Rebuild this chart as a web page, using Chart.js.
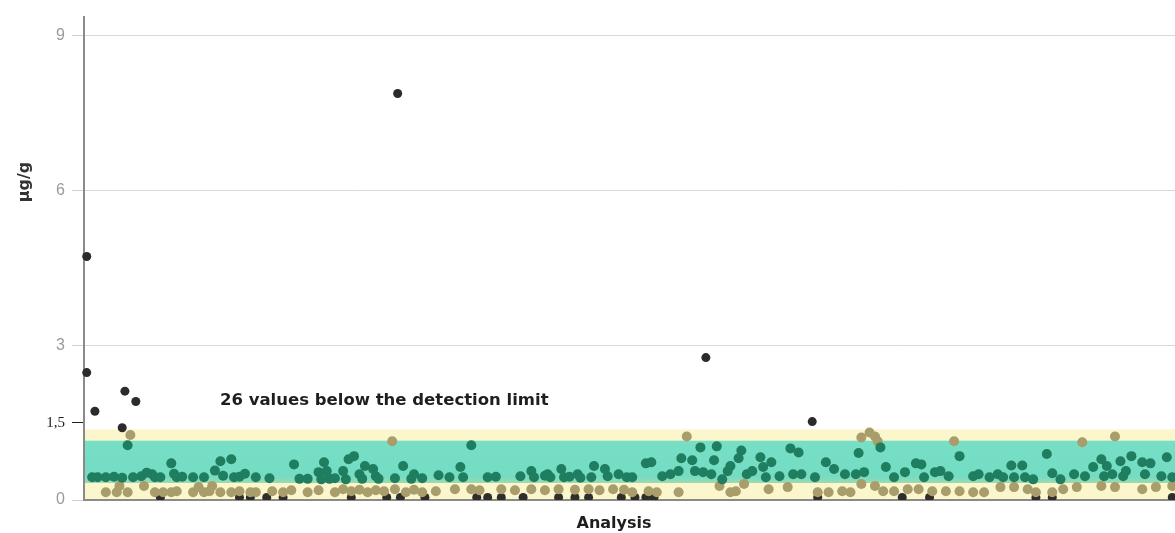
<!DOCTYPE html>
<html>
<head>
<meta charset="utf-8">
<script src="https://cdn.jsdelivr.net/npm/chart.js@4/dist/chart.umd.min.js"></script>
<style>
  html, body { margin: 0; padding: 0; background: #ffffff; overflow: hidden; }
  #wrap { width: 1175px; height: 533px; position: relative; overflow: hidden; }
  canvas { display: block; }
</style>
</head>
<body>
<div id="wrap"><canvas id="c" width="1175" height="533"></canvas></div>
<script>
// ---- data ----
const analysisMin = 0;
const analysisMax = 400;
const yMin = 0;
const yMax = 9.37;
const yTickValues = [0, 1.5, 3, 6, 9];
const yTickLabels = ['0', '1,5', '3', '6', '9'];
const yTitle = 'µg/g';
const xTitle = 'Analysis';
const noteText = '26 values below the detection limit';

// reference range bands (µg/g)
const outerBand = [0, 1.37];
const innerBand = [0.33, 1.15];

// values above the range (dark)
const outlierX = [1, 1, 4, 14, 15, 19, 115, 228, 267];
const outlierY = [2.47, 4.72, 1.72, 1.40, 2.11, 1.91, 7.88, 2.76, 1.52];

// values inside the inner range (green)
const inRangeX = [3, 5, 8, 11, 14, 16, 18, 21, 23, 25, 26, 28, 32, 33, 34, 36, 40, 44, 48, 50, 51, 54, 55, 57, 59, 63,
  68, 77, 79, 82, 86, 87, 88, 89, 90, 92, 95, 96, 97, 99, 101, 102, 103, 106, 107, 108, 114, 117, 120, 121, 124, 130,
  134, 138, 139, 142, 148, 151, 160, 164, 165, 169, 170, 171, 175, 176, 178, 181, 182, 186, 187, 191, 192, 196, 199,
  201, 206, 208, 212, 215, 218, 219, 223, 224, 226, 227, 230, 231, 232, 234, 236, 237, 240, 241, 243, 245, 248, 249, 250, 252, 255, 259, 260, 262, 263,
  268, 272, 275, 279, 283, 284, 286, 292, 294, 297, 301, 305, 307, 308, 312, 314, 317, 321, 326, 328, 332,
  335, 337, 340, 341, 344, 345, 348, 353, 355, 358, 363, 367, 370, 373, 374, 375, 377, 380, 381, 382, 384, 388, 389, 391, 395, 397, 399];
const inRangeY = [0.44, 0.44, 0.44, 0.45, 0.43, 1.06, 0.44, 0.46, 0.53, 0.50, 0.44, 0.44, 0.71, 0.51, 0.44, 0.45, 0.44, 0.44, 0.57, 0.75, 0.47, 0.79, 0.44, 0.45, 0.51, 0.44,
  0.42, 0.69, 0.41, 0.41, 0.54, 0.40, 0.73, 0.56, 0.41, 0.42, 0.56, 0.40, 0.79, 0.85, 0.50, 0.41, 0.66, 0.60, 0.46, 0.41, 0.42, 0.66, 0.41, 0.50, 0.42, 0.48,
  0.44, 0.64, 0.44, 1.06, 0.44, 0.45, 0.46, 0.56, 0.44, 0.47, 0.50, 0.44, 0.60, 0.44, 0.45, 0.50, 0.43, 0.44, 0.66, 0.60, 0.46, 0.50, 0.44,
  0.44, 0.71, 0.73, 0.46, 0.50, 0.56, 0.81, 0.77, 0.56, 1.02, 0.54, 0.50, 0.77, 1.04, 0.40, 0.56, 0.66, 0.81, 0.96, 0.50, 0.56, 0.83, 0.64, 0.44, 0.73, 0.46, 1.00, 0.50, 0.92, 0.50,
  0.44, 0.73, 0.60, 0.50, 0.50, 0.91, 0.54, 1.02, 0.64, 0.44, 0.54, 0.71, 0.69, 0.44, 0.54, 0.56, 0.46, 0.85, 0.46, 0.50, 0.44,
  0.50, 0.44, 0.67, 0.44, 0.67, 0.44, 0.40, 0.89, 0.52, 0.40, 0.50, 0.46, 0.64, 0.79, 0.46, 0.66, 0.50, 0.75, 0.46, 0.56, 0.85, 0.73, 0.50, 0.71, 0.46, 0.83, 0.44];

// values in the outer (yellow) range (olive)
const nearLimitX = [17, 113, 221, 285, 288, 290, 291, 319, 366, 378,
  8, 12, 13, 16, 22, 26, 29, 32, 34, 40, 42, 44, 46, 47, 50, 54, 57, 61, 63,
  69, 73, 76, 82, 86, 92, 95, 98, 101, 104, 107, 110, 114, 118, 121, 124, 129,
  136, 142, 145, 153, 158, 164, 169, 174, 180, 185, 189, 194, 198,
  201, 207, 210, 218, 233, 237, 239, 242, 251, 258,
  269, 273, 278, 281, 285, 290, 293, 297, 302, 306, 311, 316, 321, 326, 330,
  336, 341, 346, 349, 355, 359, 364, 373, 378, 388, 393, 399];
const nearLimitY = [1.26, 1.14, 1.23, 1.21, 1.31, 1.23, 1.14, 1.14, 1.12, 1.23,
  0.15, 0.15, 0.27, 0.15, 0.27, 0.15, 0.15, 0.15, 0.17, 0.15, 0.25, 0.15, 0.17, 0.27, 0.15, 0.15, 0.17, 0.15, 0.15,
  0.17, 0.15, 0.19, 0.15, 0.19, 0.15, 0.21, 0.17, 0.20, 0.15, 0.19, 0.17, 0.21, 0.15, 0.20, 0.15, 0.17,
  0.21, 0.21, 0.19, 0.21, 0.19, 0.21, 0.19, 0.21, 0.20, 0.21, 0.19, 0.21, 0.20,
  0.15, 0.17, 0.15, 0.15, 0.27, 0.15, 0.17, 0.31, 0.21, 0.25,
  0.15, 0.15, 0.17, 0.15, 0.31, 0.27, 0.17, 0.17, 0.21, 0.21, 0.17, 0.17, 0.17, 0.15, 0.15,
  0.25, 0.25, 0.21, 0.15, 0.15, 0.21, 0.25, 0.27, 0.25, 0.21, 0.25, 0.27];

// 26 values below the detection limit (dark, at the bottom)
const belowLimitX = [28, 57, 61, 67, 73, 98, 111, 116, 125, 144, 148, 153, 161, 174, 180, 185, 197, 202, 206, 209, 269, 300, 310, 349, 355, 399];
const belowLimitY = [0.05, 0.05, 0.05, 0.05, 0.05, 0.05, 0.05, 0.05, 0.05, 0.05, 0.05, 0.05, 0.05, 0.05, 0.05, 0.05, 0.05, 0.05, 0.05, 0.05, 0.05, 0.05, 0.05, 0.05, 0.05, 0.05];

const pts = (xs, ys) => xs.map((x, i) => ({ x: x, y: ys[i] }));

// ---- plugins ----
const bandsPlugin = {
  id: 'bands',
  beforeDatasetsDraw(chart) {
    const { ctx, chartArea, scales } = chart;
    const y = scales.y;
    const l = chartArea.left + 1, r = chartArea.right;
    ctx.save();
    const oTop = y.getPixelForValue(outerBand[1]);
    const oBot = Math.min(y.getPixelForValue(outerBand[0]), chartArea.bottom - 1);
    ctx.fillStyle = '#fcf6cc';
    ctx.fillRect(l, oTop, r - l, oBot - oTop);
    const iTop = y.getPixelForValue(innerBand[1]);
    const iBot = y.getPixelForValue(innerBand[0]);
    const g = ctx.createLinearGradient(0, iTop, 0, iBot);
    g.addColorStop(0, '#76dfc6');
    g.addColorStop(0.85, '#74dcc2');
    g.addColorStop(1, '#9ed9b0');
    ctx.fillStyle = g;
    ctx.fillRect(l, iTop, r - l, iBot - iTop);
    ctx.restore();
  }
};

const textPlugin = {
  id: 'texts',
  afterDraw(chart) {
    const { ctx } = chart;
    ctx.save();
    ctx.fillStyle = '#1e1e1e';
    ctx.font = 'bold 16.5px "DejaVu Sans"';
    ctx.textAlign = 'left';
    ctx.textBaseline = 'alphabetic';
    ctx.fillText(noteText, 220, 405);

    ctx.font = 'bold 16px "DejaVu Sans"';
    ctx.textAlign = 'center';
    ctx.fillText(xTitle, 614, 528);

    ctx.translate(25, 182);
    ctx.rotate(-Math.PI / 2);
    ctx.font = 'bold 16px "DejaVu Sans"';
    ctx.textBaseline = 'middle';
    ctx.fillStyle = '#333333';
    ctx.fillText(yTitle, 0, 0);
    ctx.restore();
  }
};

new Chart(document.getElementById('c'), {
  type: 'scatter',
  data: {
    datasets: [
      { label: 'above', data: pts(outlierX, outlierY), backgroundColor: '#2b2b2b', borderColor: '#2b2b2b',
        pointRadius: 4.5, borderWidth: 0, order: 1, clip: false },
      { label: 'in range', data: pts(inRangeX, inRangeY), backgroundColor: '#1f7d60', borderColor: '#1f7d60',
        pointRadius: 5, borderWidth: 0, order: 2 },
      { label: 'near limit', data: pts(nearLimitX, nearLimitY), backgroundColor: '#a89d6b', borderColor: '#a89d6b',
        pointRadius: 5, borderWidth: 0, order: 3 },
      { label: 'below detection', data: pts(belowLimitX, belowLimitY), backgroundColor: '#2e2e2a', borderColor: '#2e2e2a',
        pointRadius: 4.5, borderWidth: 0, order: 4 }
    ]
  },
  options: {
    responsive: false,
    animation: false,
    events: [],
    layout: { autoPadding: false, padding: { top: 15, right: 0, left: 0, bottom: 0 } },
    plugins: { legend: { display: false }, tooltip: { enabled: false } },
    scales: {
      x: {
        type: 'linear',
        min: analysisMin,
        max: analysisMax,
        ticks: { display: false },
        grid: { display: false },
        border: { display: true, color: '#8a8a8a', width: 2 },
        afterFit(scale) { scale.height = 33; }
      },
      y: {
        type: 'linear',
        min: yMin,
        max: yMax,
        afterBuildTicks(scale) { scale.ticks = yTickValues.map(v => ({ value: v })); },
        ticks: {
          padding: 7,
          callback: (v) => yTickLabels[yTickValues.indexOf(v)],
          color: (c) => (c.tick && c.tick.value === 1.5) ? '#222222' : '#9a9a9a',
          font: (c) => (c.tick && c.tick.value === 1.5)
            ? { family: 'Liberation Serif', size: 15 }
            : { family: 'Liberation Sans', size: 16 }
        },
        grid: {
          tickLength: 12,
          lineWidth: 1,
          color: (c) => (c.tick && (c.tick.value === 0 || c.tick.value === 1.5)) ? 'rgba(0,0,0,0)' : '#d9d9d9',
          tickColor: (c) => (c.tick && c.tick.value === 1.5) ? '#222222' : '#d0d0d0'
        },
        border: { display: true, color: '#8a8a8a', width: 2 },
        afterFit(scale) { scale.width = 84; }
      }
    }
  },
  plugins: [bandsPlugin, textPlugin]
});
</script>
</body>
</html>
